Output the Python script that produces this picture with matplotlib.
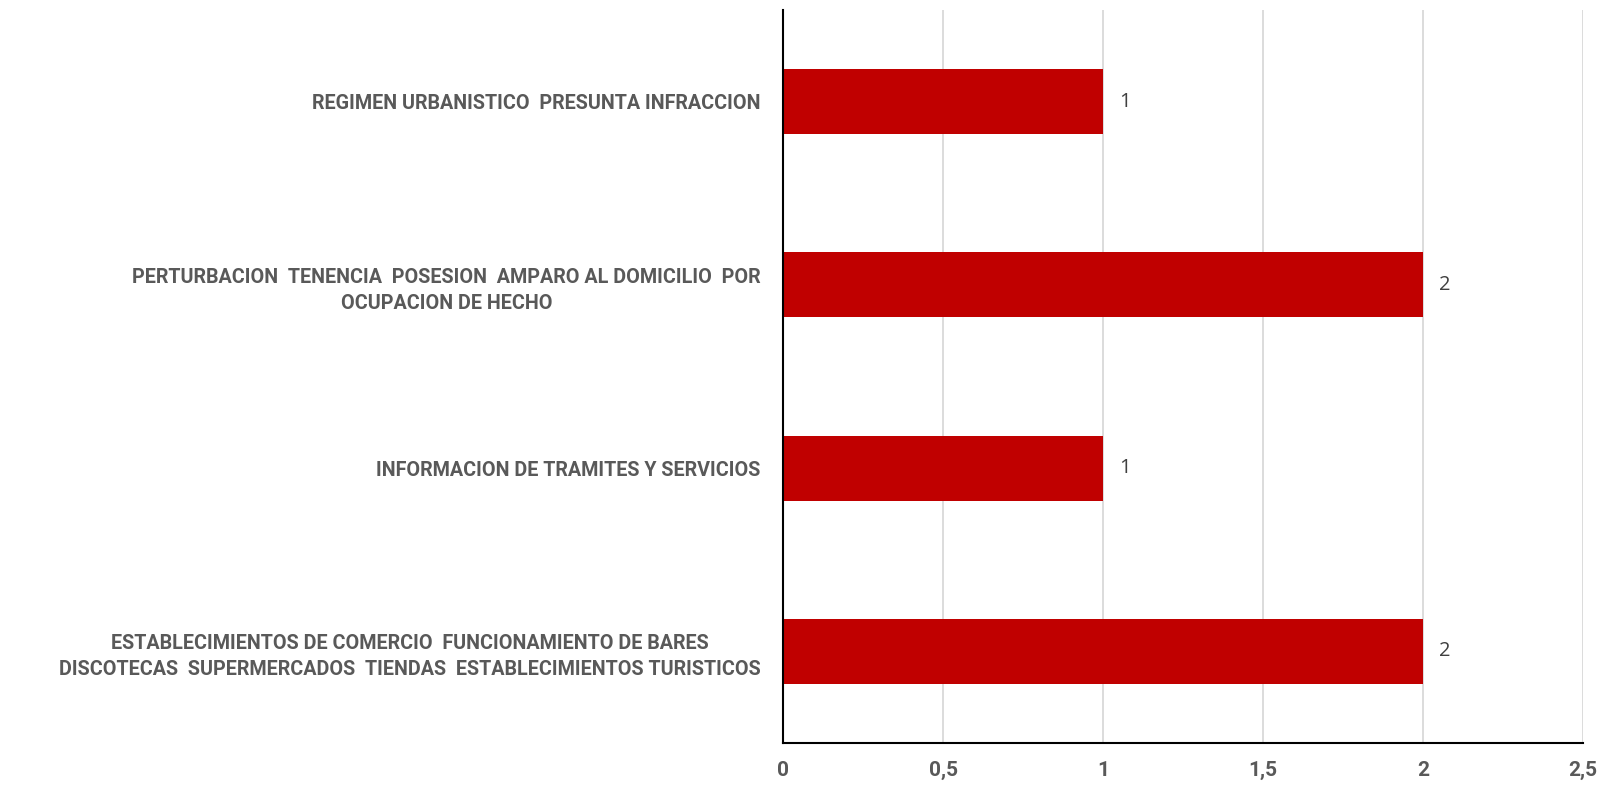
import matplotlib.pyplot as plt
from matplotlib.ticker import FuncFormatter

categorias = [
    'ESTABLECIMIENTOS DE COMERCIO  FUNCIONAMIENTO DE BARES\nDISCOTECAS  SUPERMERCADOS  TIENDAS  ESTABLECIMIENTOS TURISTICOS',
    'INFORMACION DE TRAMITES Y SERVICIOS',
    'PERTURBACION  TENENCIA  POSESION  AMPARO AL DOMICILIO  POR\nOCUPACION DE HECHO',
    'REGIMEN URBANISTICO  PRESUNTA INFRACCION',
]
valores = [2, 1, 2, 1]
xticks = [0, 0.5, 1, 1.5, 2, 2.5]

plt.rcParams['font.family'] = ['Roboto', 'DejaVu Sans']

fig = plt.figure(figsize=(16.02, 7.85), dpi=100)
ax = fig.add_axes([0.4888, 0.0535, 0.4993, 0.9338])

pos = list(range(len(categorias)))
bars = ax.barh(pos, valores, height=0.355, color='#C00000', zorder=3)
for b, v in zip(bars, valores):
    ax.text(b.get_width() + 0.05, b.get_y() + b.get_height() / 2, str(v),
            va='center', ha='left', fontsize=14.5, color='#404040',
            family=['Open Sans', 'DejaVu Sans'])

ax.set_xlim(0, 2.5)
ax.set_ylim(-0.5, len(categorias) - 0.5)
ax.set_xticks(xticks)
ax.xaxis.set_major_formatter(FuncFormatter(lambda x, p: ('%g' % x).replace('.', ',')))
ax.set_yticks(pos)
ax.set_yticklabels(categorias, multialignment='center', linespacing=1.45)

for lab in ax.get_yticklabels():
    lab.set_fontweight('bold')
    lab.set_color('#595959')
    lab.set_fontsize(14.2)
for lab in ax.get_xticklabels():
    lab.set_fontweight('bold')
    lab.set_color('#595959')
    lab.set_fontsize(15)

ax.tick_params(axis='y', length=0, pad=16)
ax.tick_params(axis='x', length=0, pad=13)
ax.grid(axis='x', color='#D9D9D9', linewidth=1.3, zorder=0)
for s in ['top', 'right']:
    ax.spines[s].set_visible(False)
ax.spines['left'].set_color('black')
ax.spines['bottom'].set_color('black')
ax.spines['left'].set_linewidth(1.5)
ax.spines['bottom'].set_linewidth(1.5)
ax.spines['left'].set_zorder(4)

plt.savefig('out.png', dpi=100)
